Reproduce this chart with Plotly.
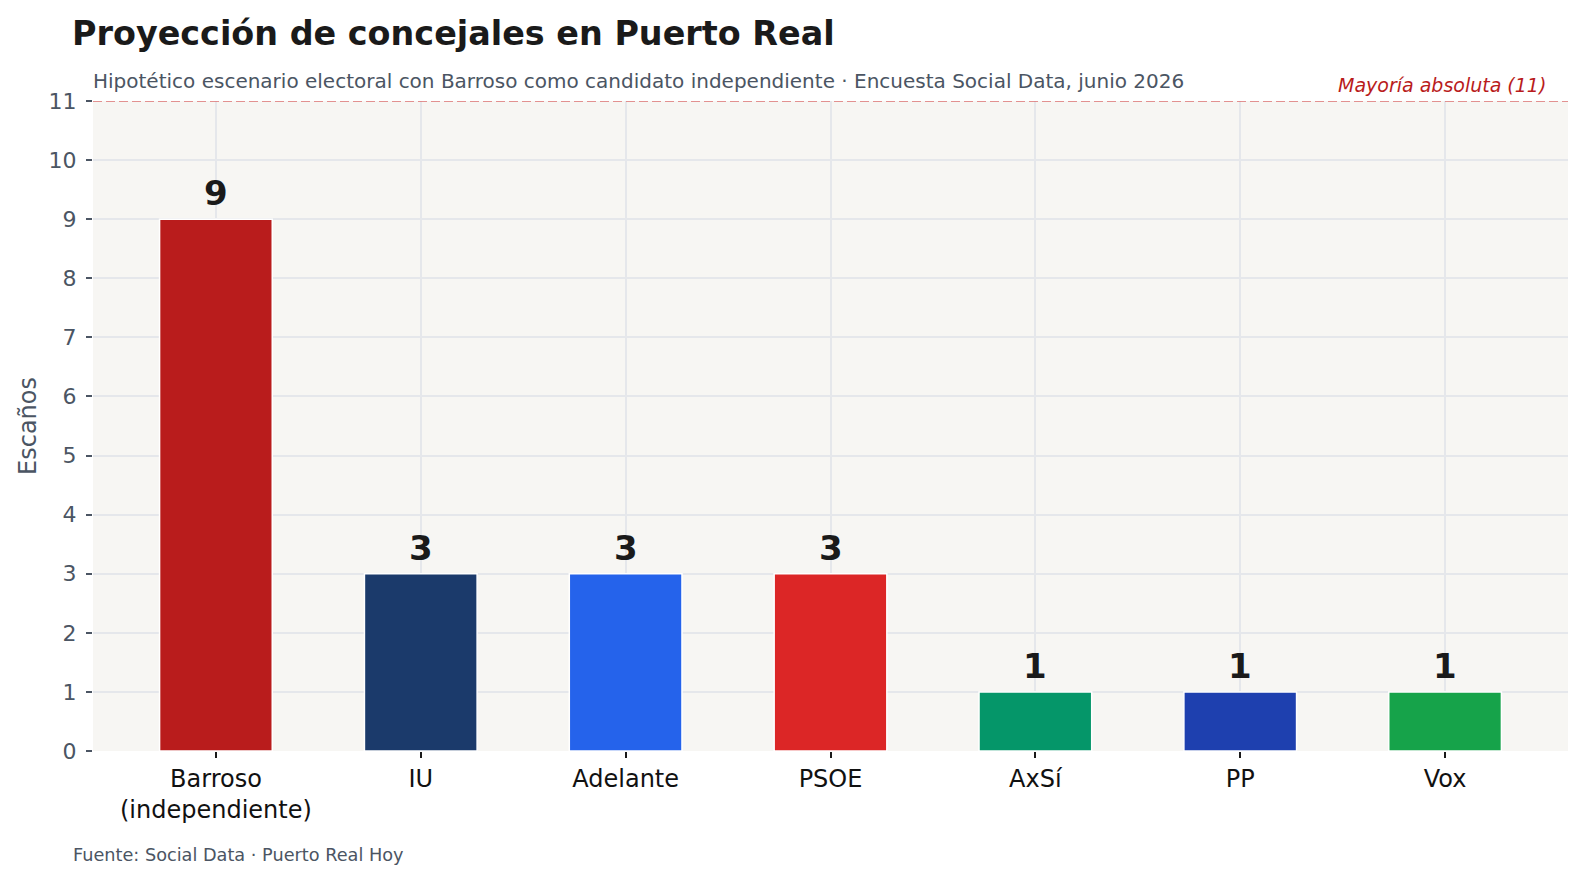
import plotly.graph_objects as go

partidos = ["Barroso<br>(independiente)", "IU", "Adelante", "PSOE", "AxSí", "PP", "Vox"]
escanos = [9, 3, 3, 3, 1, 1, 1]
colores = ["#b91c1c", "#1b3a6b", "#2563eb", "#dc2626", "#059669", "#1e40af", "#16a34a"]
mayoria = 11
y_ticks = list(range(0, 12))

W, H = 1583, 880
L, R, T, B = 93, 15, 101, 129
pw = W - L - R
ph = H - T - B

fig = go.Figure()
fig.add_trace(go.Bar(
    x=partidos, y=escanos,
    marker=dict(color=colores, line=dict(color="white", width=1.5)),
    width=0.55,
    hoverinfo="skip",
))

fig.add_shape(type="line", xref="paper", x0=0, x1=1, yref="y", y0=mayoria, y1=mayoria,
              layer="above",
              line=dict(color="#db7070", width=1.6, dash="9px,4px"))

annotations = []
for p, v in zip(partidos, escanos):
    annotations.append(dict(
        x=p, y=v, xref="x", yref="y", text=f"<b>{v}</b>", showarrow=False,
        xanchor="center", yanchor="middle", yshift=26,
        font=dict(family="DejaVu Sans", size=34, color="#1a1a1a")))

annotations += [
    dict(text="Hipotético escenario electoral con Barroso como candidato independiente · Encuesta Social Data, junio 2026",
         xref="paper", yref="paper", x=0, y=1, xanchor="left", yanchor="middle",
         xshift=-2, yshift=101 - 81,
         showarrow=False, font=dict(size=20, color="#4b5563")),
    dict(text="<i>Mayoría absoluta (11)</i>",
         xref="paper", yref="y", x=1, y=mayoria, xanchor="right", yanchor="middle",
         xshift=-(W - R - 1548), yshift=101 - 85, showarrow=False,
         font=dict(size=19, color="#b91c1c")),
    dict(text="Fuente: Social Data · Puerto Real Hoy",
         xref="paper", yref="paper", x=(71 - L) / pw, y=-(855 - (H - B)) / ph,
         xanchor="left", yanchor="middle", showarrow=False,
         font=dict(size=17.7, color="#4b5563")),
]

fig.update_layout(
    width=W, height=H,
    margin=dict(l=L, r=R, t=T, b=B),
    paper_bgcolor="white",
    plot_bgcolor="#f7f6f3",
    showlegend=False,
    font=dict(family="DejaVu Sans", color="#1a1a1a"),
    title=dict(text="<b>Proyección de concejales en Puerto Real</b>",
               xref="container", yref="container", x=72 / W, xanchor="left",
               y=1 - 33 / H, yanchor="middle",
               font=dict(family="DejaVu Sans", size=33.4, color="#1a1a1a")),
    xaxis=dict(
        range=[-0.6, 6.6], showgrid=True, gridcolor="#e5e7eb", gridwidth=1.5,
        ticks="outside", ticklen=6, tickcolor="#1a1a1a", tickwidth=1.5,
        tickfont=dict(size=24, color="#111111"), zeroline=False, showline=False,
    ),
    yaxis=dict(
        range=[0, 11], tickvals=y_ticks, showgrid=True, gridcolor="#e5e7eb", gridwidth=1.5,
        ticks="outside", ticklen=6, tickcolor="#4b5563", tickwidth=1.5,
        ticklabelstandoff=5,
        tickfont=dict(size=22, color="#4b5563"), zeroline=False, showline=False,
        title=dict(text="Escaños", font=dict(size=24, color="#4b5563"), standoff=5),
    ),
    annotations=annotations,
)

fig.write_html("out.html")
